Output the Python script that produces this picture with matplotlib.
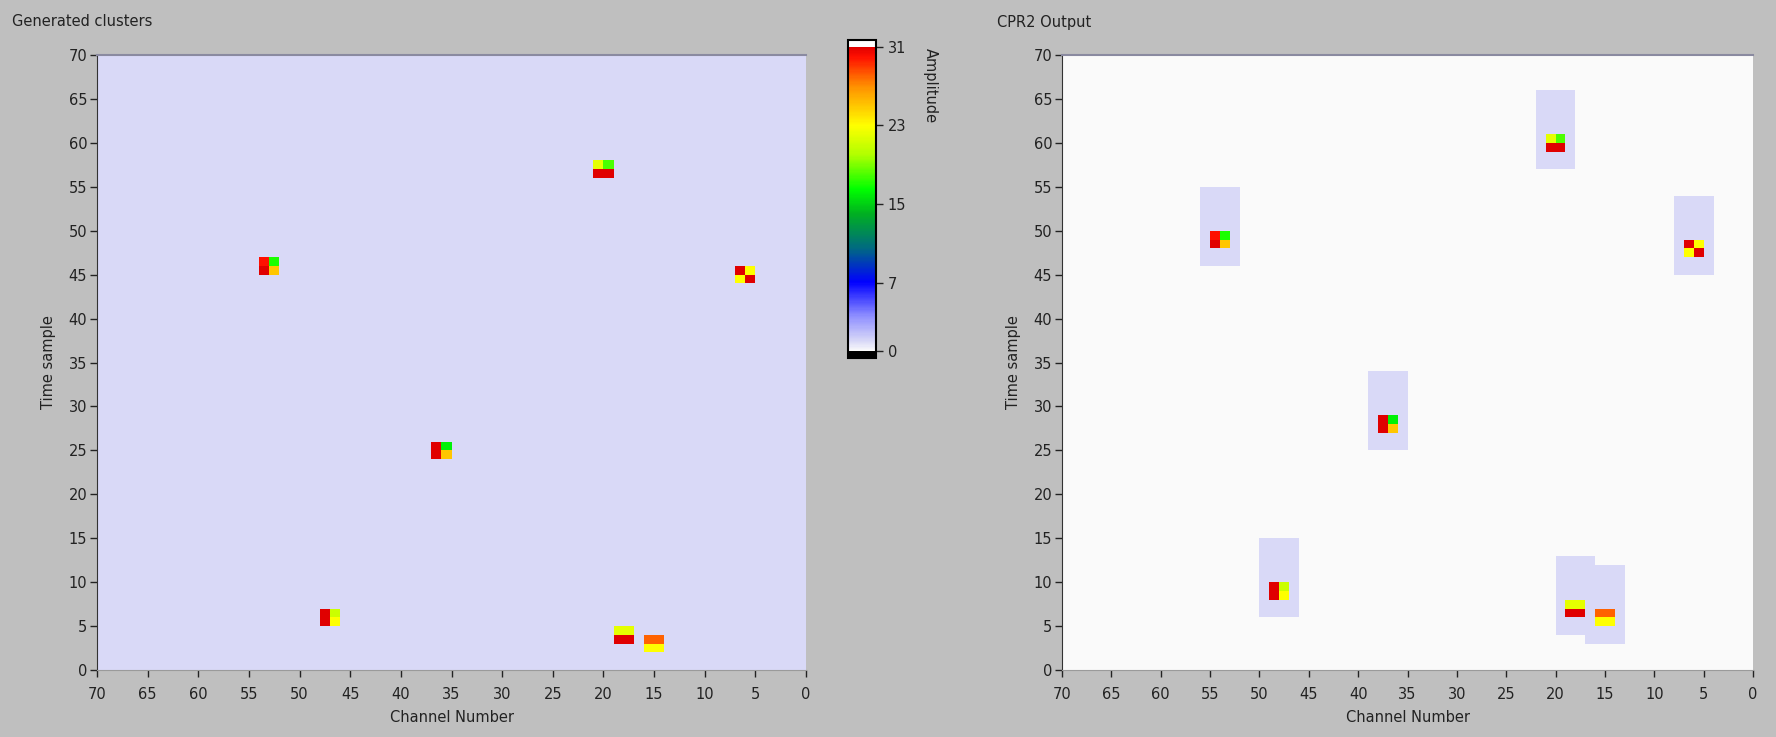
import numpy as np
import matplotlib
matplotlib.use('Agg')
import matplotlib.pyplot as plt
from matplotlib.colors import LinearSegmentedColormap, Normalize

# cluster origins (lowest channel, lowest time sample) for each 2x2 cluster
gen_channels = [52, 19, 5, 35, 46, 17, 14]
gen_samples = [45, 56, 44, 24, 5, 3, 2]
cpr_channels = [53, 19, 5, 36, 47, 17, 14]
cpr_samples = [48, 59, 47, 27, 8, 6, 5]

# amplitudes of each cluster: rows = sample (low, high), cols = channel (low, high)
cluster_amps = [
    [[25, 31], [17, 30]],
    [[31, 31], [18, 22]],
    [[31, 23], [23, 31]],
    [[25, 31], [16, 31]],
    [[23, 31], [21, 31]],
    [[31, 31], [22, 22]],
    [[23, 23], [28, 28]],
]

gen_background = 1
cpr_background = 0
cpr_window = 1
n_channels = 70
n_samples = 70
cbar_ticks = [0, 7, 15, 23, 31]

plt.rcParams['font.family'] = ['DejaVu Sans']
plt.rcParams['font.size'] = 10.5
txt = '#222222'

# amplitude colour scale, white -> blue -> green -> yellow -> red
stops = [(0, '#fafafa'), (1, '#d8d8f7'), (3.5, '#9090ff'), (7, '#0000ff'),
         (10.5, '#006a80'), (14, '#00b020'), (16.5, '#00ff00'),
         (20, '#b0ff00'), (23, '#ffff00'), (27, '#ff9000'),
         (30, '#ff1000'), (31, '#e00000')]
cmap = LinearSegmentedColormap.from_list('amp', [(v / 31, c) for v, c in stops])
cmap.set_over('white')
cmap.set_under('black')
norm = Normalize(vmin=0, vmax=31)


def build_grid(channels, samples, base, windows):
    grid = np.full((n_samples, n_channels), float(base))
    if windows:
        for c, s in zip(channels, samples):
            grid[s - 2:s + 7, c - 1:c + 3] = cpr_window
    for c, s, amp in zip(channels, samples, cluster_amps):
        grid[s:s + 2, c:c + 2] = amp
    return grid


gen_grid = build_grid(gen_channels, gen_samples, gen_background, False)
cpr_grid = build_grid(cpr_channels, cpr_samples, cpr_background, True)

fig = plt.figure(figsize=(17.76, 7.37), dpi=100, facecolor='#bfbfbf')
ax1 = fig.add_axes([97 / 1776, 67 / 737, 709 / 1776, 615 / 737])
ax2 = fig.add_axes([1062 / 1776, 67 / 737, 691 / 1776, 615 / 737])
cax = fig.add_axes([848 / 1776, 379 / 737, 28 / 1776, 318 / 737])

xe = np.arange(n_channels + 1)
ye = np.arange(n_samples + 1)

for ax, grid in [(ax1, gen_grid), (ax2, cpr_grid)]:
    mesh = ax.pcolormesh(xe, ye, grid, cmap=cmap, norm=norm, shading='flat')
    ax.set_xlim(70, 0)
    ax.set_ylim(0, 70)
    ax.set_xticks(range(0, 71, 5))
    ax.set_yticks(range(0, 71, 5))
    ax.tick_params(colors=txt, labelsize=10.5, length=5, width=1)
    ax.tick_params(axis='x', pad=7)
    ax.tick_params(axis='y', pad=2)
    ax.spines['right'].set_visible(False)
    ax.spines['top'].set_color('#8a8aa0')
    ax.spines['top'].set_linewidth(1.5)
    ax.spines['left'].set_color('#333333')
    ax.spines['bottom'].set_color('#9a9a9a')
    ax.set_xlabel('Channel Number', color=txt, labelpad=6)
    ax.set_ylabel('Time sample', color=txt, labelpad=9)

fig.text(12 / 1776, 1 - 22 / 737, 'Generated clusters', color=txt, va='center')
fig.text(997 / 1776, 1 - 22 / 737, 'CPR2 Output', color=txt, va='center')

cb = fig.colorbar(mesh, cax=cax, extend='both', extendrect=True,
                  extendfrac=0.022, ticks=cbar_ticks)
cb.outline.set_edgecolor('black')
cb.outline.set_linewidth(1.5)
cax.tick_params(colors=txt, labelsize=10.5, length=5, width=1)
fig.text(930 / 1776, 1 - 48 / 737, 'Amplitude', color=txt, rotation=270,
         ha='center', va='top')

fig.savefig('out.png', dpi=100, facecolor=fig.get_facecolor())
